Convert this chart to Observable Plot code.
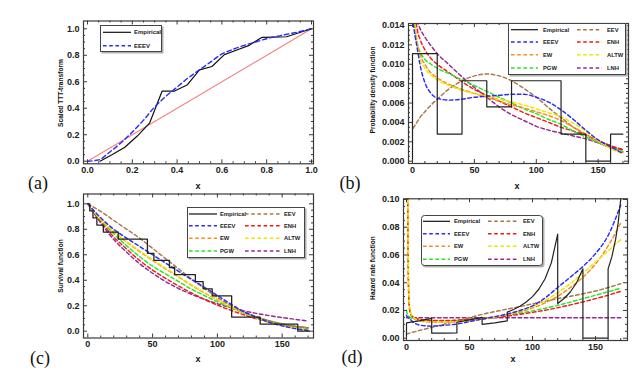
<!DOCTYPE html>
<html><head><meta charset="utf-8">
<script src="https://cdn.jsdelivr.net/npm/d3@7"></script>
<script src="https://cdn.jsdelivr.net/npm/@observablehq/plot@0.6"></script>
<style>
body{margin:0;background:#fff;}
#root{position:relative;width:644px;height:374px;background:#fff;font-family:"Liberation Sans",Arial,sans-serif;overflow:hidden;}
.lbl{position:absolute;white-space:nowrap;color:#111;}
</style></head><body><div id="root"></div>
<script>
// ---------------- DATA ----------------
// Panel (a): scaled TTT transform
const tttEmpX = [0.0556,0.1111,0.1667,0.2222,0.2778,0.3333,0.3889,0.4444,0.5,0.5556,0.6111,0.6667,0.7222,0.7778,0.8333,0.8889,0.9444,1.0];
const tttEmpY = [0,0.05,0.105,0.19,0.29,0.53,0.53,0.575,0.69,0.715,0.805,0.84,0.875,0.935,0.937,0.94,0.97,1.0];
const tttFitX = [0,0.05,0.1,0.15,0.2,0.25,0.3,0.35,0.4,0.45,0.5,0.55,0.6,0.65,0.7,0.75,0.8,0.85,0.9,0.95,1.0];
const tttEEEV = [0,0.01,0.07,0.14,0.22,0.31,0.41,0.49,0.56,0.63,0.69,0.75,0.81,0.845,0.875,0.90,0.925,0.945,0.962,0.98,1.0];
const diagX = [0,1];
const diagY = [0,1];

// Panel (b): histogram + pdfs
const binEdges = [0,20,40,60,80,100,120,140,160,170];
const binDensity = [0.0111,0.0028,0.0083,0.0056,0.0083,0.0083,0.0028,0,0.0028];
const pdfX = [0.5,2,4,6,10,15,20,30,40,50,60,70,80,90,100,110,120,130,140,150,160,170];
const pdfEEEV = [0.0142,0.0130,0.0115,0.0100,0.0081,0.0070,0.0065,0.0063,0.0064,0.0066,0.0067,0.0068,0.0069,0.0069,0.0066,0.0061,0.0053,0.0043,0.0032,0.0022,0.0015,0.0008];
const pdfEEV  = [0.0034,0.0037,0.0041,0.0045,0.0051,0.0058,0.0064,0.0075,0.0083,0.0088,0.0090,0.0088,0.0083,0.0075,0.0066,0.0055,0.0045,0.0035,0.0027,0.0021,0.0016,0.0011];
const pdfEW   = [0.0200,0.0145,0.0122,0.0111,0.0100,0.0091,0.0086,0.0079,0.0074,0.0070,0.0066,0.0062,0.0058,0.0055,0.0051,0.0047,0.0042,0.0035,0.0028,0.0020,0.0014,0.0009];
const pdfALTW = [0.0200,0.0140,0.0118,0.0107,0.0096,0.0089,0.0084,0.0078,0.0073,0.0070,0.0067,0.0064,0.0061,0.0058,0.0054,0.0050,0.0046,0.0039,0.0031,0.0021,0.0013,0.0008];
const pdfPGW  = [0.0180,0.0135,0.0120,0.0113,0.0105,0.0100,0.0096,0.0090,0.0084,0.0078,0.0072,0.0066,0.0060,0.0054,0.0049,0.0043,0.0038,0.0031,0.0025,0.0019,0.0014,0.0010];
const pdfENH  = [0.0200,0.0155,0.0135,0.0126,0.0115,0.0106,0.0100,0.0091,0.0082,0.0074,0.0068,0.0062,0.0056,0.0050,0.0045,0.0040,0.0035,0.0031,0.0027,0.0021,0.0016,0.0012];
const pdfLNH  = [0.0150,0.0148,0.0143,0.0137,0.0128,0.0119,0.0111,0.0099,0.0087,0.0076,0.0066,0.0056,0.0048,0.0042,0.0036,0.0032,0.0029,0.0026,0.0023,0.0019,0.0015,0.0012];

// Panel (c): survival
const kmX = [0,1.5,4,7,12,23.5,46,51,63,67,83,89,96,111,133,162,171];
const kmY = [1,0.944,0.889,0.833,0.778,0.722,0.611,0.556,0.5,0.444,0.389,0.333,0.278,0.111,0.056,0,0];
const survX = [0,10,20,30,40,50,60,70,80,90,100,110,120,130,140,150,160,170];
const survEEEV = [1,0.89,0.80,0.73,0.665,0.60,0.535,0.47,0.405,0.345,0.28,0.215,0.155,0.11,0.07,0.042,0.02,0.006];
const survEEV  = [1,0.94,0.87,0.80,0.73,0.65,0.57,0.49,0.41,0.335,0.265,0.205,0.155,0.115,0.082,0.057,0.038,0.025];
const survEW   = [1,0.875,0.78,0.70,0.625,0.555,0.49,0.425,0.36,0.30,0.245,0.19,0.145,0.105,0.072,0.047,0.028,0.016];
const survALTW = [1,0.88,0.785,0.705,0.63,0.56,0.495,0.43,0.365,0.305,0.25,0.195,0.15,0.105,0.07,0.043,0.024,0.012];
const survPGW  = [1,0.87,0.765,0.67,0.585,0.51,0.45,0.39,0.33,0.28,0.23,0.185,0.145,0.11,0.08,0.058,0.04,0.027];
const survENH  = [1,0.86,0.74,0.645,0.555,0.48,0.415,0.355,0.30,0.25,0.205,0.165,0.13,0.098,0.072,0.052,0.037,0.026];
const survLNH  = [1,0.85,0.72,0.62,0.53,0.455,0.39,0.335,0.29,0.25,0.215,0.185,0.16,0.14,0.122,0.107,0.093,0.08];

// Panel (d): hazard
const empHazX = [0,0,10,20,20,30,40,40,50,60,60,70,80,80,85,90,95,100,105,110,115,120,120,125,130,135,140,140,160,160,163,166,168,170];
const empHazY = [0,0.0111,0.0125,0.0143,0.0036,0.0037,0.0038,0.0115,0.0132,0.0150,0.0100,0.0111,0.0125,0.0188,0.0207,0.0231,0.0261,0.0300,0.0353,0.0429,0.0545,0.0750,0.0250,0.0286,0.0333,0.0400,0.0500,0,0,0.0500,0.0588,0.0714,0.0833,0.1000];
const hazX = [0,0.3,1,1.5,2,3,5,10,20,30,40,50,60,70,80,90,100,110,120,130,140,150,160,170];
const hazEEEV = [0.0165,0.0160,0.0152,0.0148,0.0143,0.0135,0.0118,0.0095,0.0087,0.0093,0.0102,0.0120,0.0138,0.0155,0.0175,0.0200,0.0233,0.0290,0.0366,0.0440,0.0517,0.0610,0.0740,0.0960];
const hazEEV  = [0.0030,0.0031,0.0033,0.0034,0.0035,0.0038,0.0043,0.0055,0.0078,0.0101,0.0124,0.0148,0.0172,0.0192,0.0210,0.0228,0.0248,0.0267,0.0285,0.0302,0.0320,0.0340,0.0365,0.0393];
const hazEW   = [0.5000,0.2000,0.0900,0.0400,0.0250,0.0180,0.0150,0.0126,0.0116,0.0115,0.0118,0.0125,0.0135,0.0150,0.0168,0.0190,0.0217,0.0255,0.0302,0.0365,0.0440,0.0535,0.0665,0.0830];
const hazALTW = [0.6000,0.3000,0.1200,0.0500,0.0300,0.0200,0.0155,0.0128,0.0118,0.0117,0.0120,0.0127,0.0138,0.0153,0.0172,0.0197,0.0228,0.0272,0.0328,0.0395,0.0470,0.0550,0.0630,0.0710];
const hazPGW  = [0.0200,0.0185,0.0170,0.0163,0.0157,0.0150,0.0142,0.0132,0.0125,0.0125,0.0128,0.0134,0.0143,0.0153,0.0165,0.0180,0.0197,0.0216,0.0237,0.0260,0.0285,0.0310,0.0335,0.0360];
const hazENH  = [0.5000,0.2000,0.1000,0.0450,0.0270,0.0185,0.0155,0.0136,0.0128,0.0127,0.0130,0.0135,0.0142,0.0150,0.0160,0.0172,0.0186,0.0202,0.0220,0.0240,0.0262,0.0285,0.0310,0.0338];
const hazLNH  = [0.0148,0.0148,0.0148,0.0148,0.0148,0.0148,0.0148,0.0148,0.0148,0.0148,0.0148,0.0148,0.0148,0.0148,0.0148,0.0148,0.0148,0.0148,0.0148,0.0148,0.0148,0.0148,0.0148,0.0148];

// Tick labels
const ticksUnit = [0,0.2,0.4,0.6,0.8,1.0];
const ticksX170 = [0,50,100,150];
const ticksPdf = [0,0.002,0.004,0.006,0.008,0.010,0.012,0.014];
const ticksHaz = [0,0.02,0.04,0.06,0.08,0.10];

// Series styling
const colors = {Empirical:"#111", EEEV:"#2a2aff", EEV:"#a87848", EW:"#ff8a1e", ENH:"#f21a1a", PGW:"#22e822", ALTW:"#ece600", LNH:"#952895"};
const legendOrder = ["Empirical","EEEV","EW","PGW","EEV","ENH","ALTW","LNH"];
const DASH = "3.6,2.6";

// ---------------- HELPERS ----------------
const root = document.getElementById("root");
const pts = (xs, ys) => xs.map((x, i) => ({x, y: ys[i]}));
const FONT = "Liberation Sans, Arial, sans-serif";

function domainFrom(cal, lo, hi) {
  const [v0, p0, v1, p1] = cal;
  const k = (v1 - v0) / (p1 - p0);
  const a = v0 + (lo - p0) * k, b = v0 + (hi - p0) * k;
  return a < b ? [a, b] : [b, a];
}

function panel(P) {
  const [fL, fR, fT, fB] = P.frame;
  const pw = fR - fL, ph = fB - fT;
  const xDom = domainFrom(P.xCal, fL, fR);
  const yDom = domainFrom(P.yCal, fB, fT);
  const tk = "#3a3a3a";
  const svg = Plot.plot({
    width: P.w, height: P.h,
    marginLeft: fL - P.left, marginRight: P.left + P.w - fR,
    marginTop: fT - P.top, marginBottom: P.top + P.h - fB,
    x: {domain: xDom}, y: {domain: yDom},
    style: {background: "transparent", fontFamily: FONT, fontSize: "9px", fontWeight: "bold", color: "#222", overflow: "visible"},
    marks: [
      ...P.marks,
      Plot.tickX(P.xMinor, {x: d => d, insetTop: ph - 2, stroke: tk}),
      Plot.tickX(P.xMinor, {x: d => d, insetBottom: ph - 2, stroke: tk}),
      Plot.tickX(P.xTicks, {x: d => d, insetTop: ph - 4, stroke: tk}),
      Plot.tickX(P.xTicks, {x: d => d, insetBottom: ph - 4, stroke: tk}),
      Plot.tickY(P.yMinor, {y: d => d, insetRight: pw - 2, stroke: tk}),
      Plot.tickY(P.yMinor, {y: d => d, insetLeft: pw - 2, stroke: tk}),
      Plot.tickY(P.yTicks, {y: d => d, insetRight: pw - 4, stroke: tk}),
      Plot.tickY(P.yTicks, {y: d => d, insetLeft: pw - 4, stroke: tk}),
      Plot.frame({stroke: "#3a3a3a", strokeWidth: 1.2}),
      Plot.axisX({ticks: P.xTicks, tickSize: 0, tickPadding: 3, tickFormat: P.fmtX, label: null, anchor: "bottom"}),
      Plot.axisY({ticks: P.yTicks, tickSize: 0, tickPadding: 4, tickFormat: P.fmtY, label: null, anchor: "left"})
    ]
  });
  svg.style.position = "absolute";
  svg.style.left = P.left + "px";
  svg.style.top = P.top + "px";
  root.appendChild(svg);
}

function minors(lo, hi, step, majors) {
  return d3.range(lo, hi + step / 2, step).filter(v => !majors.some(m => Math.abs(m - v) < step / 10));
}

function dashed(xs, ys, name) {
  return Plot.line(pts(xs, ys), {x: "x", y: "y", stroke: colors[name], strokeWidth: 1.45, strokeDasharray: DASH, curve: "monotone-x", clip: true});
}

function label(text, cx, cy, css) {
  const d = document.createElement("div");
  d.className = "lbl";
  d.textContent = text;
  d.style.cssText += `left:${cx}px;top:${cy}px;` + css;
  root.appendChild(d);
}

function legend(L) {
  const svg = d3.select(root).append("svg")
    .style("position", "absolute").style("left", L.left + "px").style("top", L.top + "px")
    .attr("width", L.w + 3).attr("height", L.h + 3);
  svg.append("rect").attr("x", 1.5).attr("y", 1.5).attr("width", L.w).attr("height", L.h).attr("rx", L.rx || 0).attr("fill", "#b0b0b0");
  svg.append("rect").attr("x", 0.5).attr("y", 0.5).attr("width", L.w - 1).attr("height", L.h - 1).attr("rx", L.rx || 0)
    .attr("fill", "#fff").attr("stroke", "#444").attr("stroke-width", 1);
  L.names.forEach((name, i) => {
    const col = Math.floor(i / L.rows.length), row = i % L.rows.length;
    const c = L.cols[col], y = L.rows[row];
    svg.append("line").attr("x1", c[0]).attr("x2", c[1]).attr("y1", y).attr("y2", y)
      .attr("stroke", colors[name]).attr("stroke-width", name === "Empirical" ? 1.2 : 1.4)
      .attr("stroke-dasharray", name === "Empirical" ? null : DASH);
    svg.append("text").attr("x", c[2]).attr("y", y).attr("dy", "0.36em")
      .attr("font-family", FONT).attr("font-size", L.fs || 6).attr("font-weight", "bold").attr("fill", "#222")
      .text(name);
  });
}

const f1 = d3.format(".1f"), f2 = d3.format(".2f"), f3 = d3.format(".3f"), f0 = d3.format("d");

// ---------------- PANEL (a) ----------------
panel({
  left: 0, top: 0, w: 322, h: 190,
  frame: [83, 313, 20.5, 163.3],
  xCal: [0, 87, 1, 311], yCal: [0, 160.7, 1, 28.3],
  xTicks: ticksUnit, yTicks: ticksUnit,
  xMinor: minors(0, 1, 0.05, ticksUnit), yMinor: minors(0, 1, 0.05, ticksUnit),
  fmtX: f1, fmtY: f1,
  marks: [
    Plot.line(pts(diagX, diagY), {x: "x", y: "y", stroke: "#f28080", strokeWidth: 1.1}),
    Plot.line(pts(tttEmpX, tttEmpY), {x: "x", y: "y", stroke: colors.Empirical, strokeWidth: 1.2}),
    Plot.line(pts(tttFitX, tttEEEV), {x: "x", y: "y", stroke: colors.EEEV, strokeWidth: 1.4, strokeDasharray: "4.5,3", curve: "monotone-x"})
  ]
});

// ---------------- PANEL (b) ----------------
const histPts = [{x: 0, y: 0}].concat(binEdges.map((e, i) => ({x: e, y: binDensity[Math.min(i, binDensity.length - 1)]})));
panel({
  left: 322, top: 0, w: 322, h: 190,
  frame: [408, 628, 23, 163],
  xCal: [0, 412, 150, 597.7], yCal: [0, 160.7, 0.014, 25],
  xTicks: ticksX170, yTicks: ticksPdf,
  xMinor: minors(0, 170, 10, ticksX170), yMinor: minors(0, 0.014, 0.0005, ticksPdf),
  fmtX: f0, fmtY: f3,
  marks: [
    dashed(pdfX, pdfEEV, "EEV"),
    dashed(pdfX, pdfLNH, "LNH"),
    dashed(pdfX, pdfENH, "ENH"),
    dashed(pdfX, pdfPGW, "PGW"),
    dashed(pdfX, pdfEW, "EW"),
    dashed(pdfX, pdfALTW, "ALTW"),
    dashed(pdfX, pdfEEEV, "EEEV"),
    Plot.line(histPts, {x: "x", y: "y", curve: "step-after", stroke: "#222", strokeWidth: 1.2})
  ]
});

// ---------------- PANEL (c) ----------------
panel({
  left: 0, top: 187, w: 322, h: 187,
  frame: [83, 313, 193.5, 337.5],
  xCal: [0, 87.3, 150, 281.7], yCal: [0, 330.7, 1, 203.3],
  xTicks: ticksX170, yTicks: ticksUnit,
  xMinor: minors(0, 170, 10, ticksX170), yMinor: minors(0, 1, 0.05, ticksUnit),
  fmtX: f0, fmtY: f1,
  marks: [
    dashed(survX, survLNH, "LNH"),
    dashed(survX, survENH, "ENH"),
    dashed(survX, survPGW, "PGW"),
    dashed(survX, survEW, "EW"),
    dashed(survX, survALTW, "ALTW"),
    dashed(survX, survEEV, "EEV"),
    dashed(survX, survEEEV, "EEEV"),
    Plot.line(pts(kmX, kmY), {x: "x", y: "y", curve: "step-after", stroke: "#222", strokeWidth: 1.3})
  ]
});

// ---------------- PANEL (d) ----------------
panel({
  left: 322, top: 187, w: 322, h: 187,
  frame: [403, 627, 198.3, 340],
  xCal: [0, 406, 150, 595], yCal: [0, 337.7, 0.1, 199],
  xTicks: ticksX170, yTicks: ticksHaz,
  xMinor: minors(0, 170, 10, ticksX170), yMinor: minors(0, 0.1, 0.005, ticksHaz),
  fmtX: f0, fmtY: f2,
  marks: [
    dashed(hazX, hazLNH, "LNH"),
    dashed(hazX, hazEEV, "EEV"),
    dashed(hazX, hazPGW, "PGW"),
    dashed(hazX, hazEW, "EW"),
    dashed(hazX, hazENH, "ENH"),
    dashed(hazX, hazALTW, "ALTW"),
    dashed(hazX, hazEEEV, "EEEV"),
    Plot.line(pts(empHazX, empHazY), {x: "x", y: "y", stroke: "#222", strokeWidth: 1.2, clip: true})
  ]
});

// ---------------- LEGENDS ----------------
legend({left: 100, top: 25, w: 62, h: 27, rx: 0, rows: [7.3, 20.7], cols: [[3, 31, 34]], names: ["Empirical", "EEEV"], fs: 6});
legend({left: 508, top: 23, w: 118, h: 52, rows: [6.7, 19, 31.7, 45], cols: [[3, 30, 35], [69, 94, 99]], names: legendOrder, fs: 5.8});
legend({left: 187, top: 207, w: 118, h: 51, rows: [7, 18.7, 31.3, 44], cols: [[2, 30, 33], [58, 93, 97]], names: legendOrder, fs: 5.8});
legend({left: 421, top: 215, w: 122, h: 51, rx: 3, rows: [6.3, 18.7, 31.3, 44.3], cols: [[2, 29, 33], [67, 97, 102]], names: legendOrder, fs: 5.8});

// ---------------- TEXT LABELS ----------------
const rot = "transform:translate(-50%,-50%) rotate(-90deg);font-size:6.6px;font-weight:bold;";
const ctr = "transform:translate(-50%,-50%);";
label("Scaled TTT-transform", 60, 93, rot);
label("Probability density function", 372, 90, rot);
label("Survival function", 60, 266, rot);
label("Hazard rate function", 372, 268, rot);
const xl = ctr + "font-size:9px;font-weight:bold;";
label("x", 198, 186, xl);
label("x", 517, 186, xl);
label("x", 198, 359, xl);
label("x", 513, 359, xl);
const pl = ctr + "font-family:'Liberation Serif','Times New Roman',serif;font-size:18px;";
label("(a)", 38, 183, pl);
label("(b)", 350, 183, pl);
label("(c)", 40, 358, pl);
label("(d)", 352, 357, pl);
</script></body></html>
